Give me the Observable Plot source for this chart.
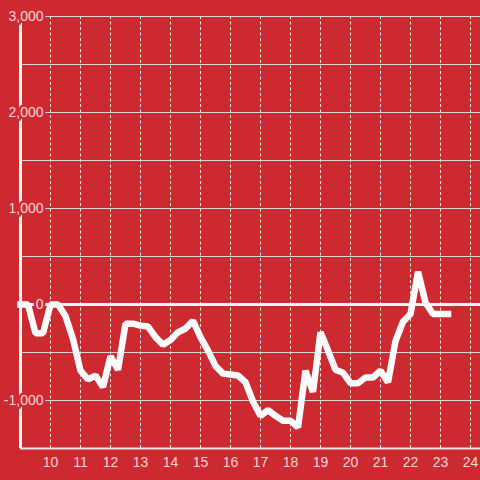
<!DOCTYPE html>
<html>
<head>
<meta charset="utf-8">
<script src="https://cdn.jsdelivr.net/npm/d3@7"></script>
<script src="https://cdn.jsdelivr.net/npm/@observablehq/plot@0.6"></script>
<style>
  html, body { margin: 0; padding: 0; background: #cc2a30; }
  #chart svg { display: block; }
</style>
</head>
<body>
<div id="chart"></div>
<script>
// Time of day in hours (15-minute steps) and values
const startHour = 9;
const stepHours = 0.25;
const values = [
  0, 0, -300, -300, 0, 0, -120, -360,
  -690, -780, -740, -860, -540, -680, -200, -200,
  -220, -230, -340, -420, -370, -290, -250, -170,
  -340, -480, -640, -720, -730, -740, -810, -1010,
  -1160, -1100, -1160, -1210, -1210, -1280, -690, -910,
  -290, -480, -680, -710, -820, -820, -760, -760,
  -690, -810, -380, -180, -100, 340, 20, -100,
  -100, -100
];
const yGrid = [-1500, -1000, -500, 500, 1000, 1500, 2000, 2500, 3000];
const yLabels = [3000, 2000, 1000, 0, -1000];
const xTicks = [10, 11, 12, 13, 14, 15, 16, 17, 18, 19, 20, 21, 22, 23, 24];

const data = values.map((v, i) => ({t: startHour + i * stepHours, v}));

const bg = "#cc2a30";
const fmt = d3.format(",");

const chart = Plot.plot({
  width: 480,
  height: 480,
  marginTop: 16,
  marginBottom: 32,
  marginLeft: 0,
  marginRight: 0,
  style: {background: bg, fontFamily: "'Liberation Sans', Arial, sans-serif"},
  x: {domain: [startHour - 2 / 3, 24 + 1 / 3], axis: null},
  y: {domain: [-1500, 3000], axis: null},
  marks: [
    Plot.ruleX(xTicks, {y1: -1500, y2: 3000, stroke: "#e6e6e6", strokeWidth: 1, strokeDasharray: "3,2.5"}),
    Plot.ruleY(yGrid, {x1: startHour, x2: 24 + 1 / 3, stroke: "#d8d8d8", strokeWidth: 1}),
    Plot.ruleY([-1500], {x1: startHour, x2: 24 + 1 / 3, stroke: "#e8e8e8", strokeWidth: 2}),
    Plot.ruleY([0], {x1: startHour, x2: 24 + 1 / 3, stroke: "#f4f4f4", strokeWidth: 3}),
    Plot.ruleX([startHour], {y1: -1500, y2: 3000, stroke: "#f4f4f4", strokeWidth: 3}),
    Plot.text(yLabels, {
      x: startHour, y: d => d, text: d => fmt(d).replace("−", "-"),
      dx: 23, textAnchor: "end", fontSize: 14,
      fill: "#f5d6d7", stroke: bg, strokeWidth: 5
    }),
    Plot.text(xTicks, {
      x: d => d, y: -1500, text: d => String(d),
      dy: 14, fontSize: 14, fill: "#f5d6d7"
    }),
    Plot.line(data, {
      x: "t", y: "v", stroke: "#ffffff", strokeWidth: 6.5,
      strokeLinejoin: "miter", strokeLinecap: "square"
    })
  ]
});
document.getElementById("chart").append(chart);
</script>
</body>
</html>
